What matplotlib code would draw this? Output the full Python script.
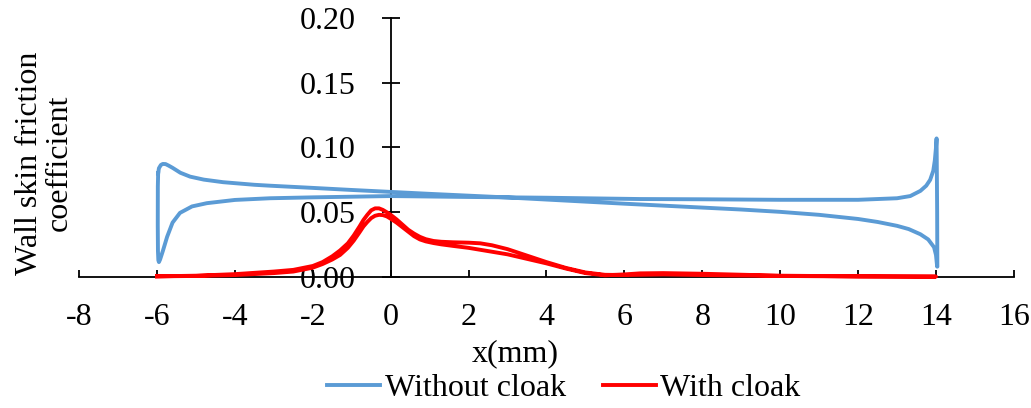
import matplotlib
matplotlib.use("Agg")
import matplotlib.pyplot as plt
from matplotlib.lines import Line2D

# ---- data (closed loops: both surfaces of the body) ----
blue_x = [-5.97, -5.95, -5.9, -5.85, -5.78, -5.7, -5.6, -5.4, -5.15, -4.8, -4.3, -3.5, -3.1, -2.0,
          -1.0, 0.0, 1.0, 2.0, 3.0, 4.0, 5.0, 6.0, 7.0, 8.0, 9.0, 10.0, 11.0, 12.0, 12.5, 13.0,
          13.3, 13.6, 13.8, 13.95, 14.0, 14.03,
          14.035, 14.03, 14.02, 14.015, 14.0, 13.97, 13.93, 13.85, 13.75, 13.6, 13.34, 13.0, 12.0,
          10.0, 8.0, 6.4, 4.0, 2.0, 0.0, -2.0, -3.1, -4.0, -4.72, -5.1, -5.41, -5.6, -5.74, -5.85,
          -5.92, -5.95, -5.965, -5.975, -5.98, -5.978, -5.97]
blue_y = [0.0800, 0.0840, 0.0865, 0.0873, 0.0872, 0.0860, 0.0843, 0.0805, 0.0775, 0.0752, 0.0732,
          0.0712, 0.0705, 0.0688, 0.0672, 0.0657, 0.0642, 0.0628, 0.0614, 0.0598, 0.0582, 0.0566,
          0.0551, 0.0536, 0.0521, 0.0503, 0.0480, 0.0448, 0.0425, 0.0395, 0.0370, 0.0330, 0.0290,
          0.0230, 0.0170, 0.0080,
          0.0080, 0.0500, 0.0900, 0.1070, 0.1000, 0.0900, 0.0820, 0.0750, 0.0705, 0.0665, 0.0625,
          0.0608, 0.0596, 0.0596, 0.0600, 0.0602, 0.0612, 0.0618, 0.0625, 0.0615, 0.0608, 0.0595,
          0.0570, 0.0545, 0.0495, 0.0420, 0.0310, 0.0200, 0.0135, 0.0115, 0.0130, 0.0200, 0.0400,
          0.0700, 0.0800]

red_x = [-6.0, -5.0, -4.0, -3.0, -2.5, -2.0, -1.75, -1.5, -1.3, -1.1, -0.95, -0.8, -0.7, -0.6,
         -0.5, -0.4, -0.3, -0.2, -0.1, 0.0, 0.15, 0.3, 0.45, 0.6, 0.75, 0.9, 1.1, 1.3, 1.6, 2.0,
         2.3, 2.6, 3.0, 3.5, 4.0, 4.5, 5.0, 5.5, 6.0, 7.0, 8.0, 10.0, 12.0, 14.0,
         14.0, 12.0, 10.0, 8.0, 7.0, 6.4, 6.0, 5.5, 5.0, 4.5, 4.0, 3.5, 3.0, 2.5, 2.0, 1.6, 1.3,
         1.1, 0.9, 0.75, 0.6, 0.45, 0.3, 0.15, 0.0, -0.1, -0.2, -0.3, -0.4, -0.5, -0.6, -0.7,
         -0.8, -0.95, -1.1, -1.3, -1.5, -1.75, -2.0, -2.5, -3.0, -4.0, -5.0, -6.0]
red_y = [0.0005, 0.0010, 0.0022, 0.0042, 0.0055, 0.0085, 0.0115, 0.0160, 0.0205, 0.0260, 0.0320,
         0.0390, 0.0440, 0.0480, 0.0515, 0.0530, 0.0530, 0.0518, 0.0500, 0.0480, 0.0445, 0.0405,
         0.0365, 0.0335, 0.0310, 0.0292, 0.0278, 0.0272, 0.0268, 0.0265, 0.0260, 0.0245, 0.0215,
         0.0165, 0.0115, 0.0070, 0.0035, 0.0017, 0.0015, 0.0020, 0.0015, 0.0008, 0.0004, 0.0003,
         0.0003, 0.0005, 0.0010, 0.0025, 0.0030, 0.0028, 0.0020, 0.0013, 0.0030, 0.0065, 0.0105,
         0.0140, 0.0175, 0.0200, 0.0225, 0.0240, 0.0252, 0.0262, 0.0275, 0.0290, 0.0315, 0.0350,
         0.0385, 0.0420, 0.0450, 0.0468, 0.0478, 0.0480, 0.0473, 0.0455, 0.0425, 0.0390, 0.0345,
         0.0280, 0.0225, 0.0170, 0.0135, 0.0100, 0.0072, 0.0042, 0.0030, 0.0015, 0.0008, 0.0005]

x_ticks = [-8, -6, -4, -2, 0, 2, 4, 6, 8, 10, 12, 14, 16]
y_ticks = [0.00, 0.05, 0.10, 0.15, 0.20]

BLUE = "#5B9BD5"
RED = "#FF0000"

plt.rcParams['font.family'] = ['Liberation Serif', 'DejaVu Serif']
FS = 23

fig = plt.figure(figsize=(10.31, 4.08), dpi=100)
ax = fig.add_axes([0.0767, 0.3211, 0.9067, 0.6348])

ax.plot(blue_x, blue_y, color=BLUE, lw=2.8, solid_joinstyle='round', zorder=3, clip_on=False)
ax.plot(red_x, red_y, color=RED, lw=2.8, solid_joinstyle='round', zorder=4, clip_on=False)

for s in ['top', 'right']:
    ax.spines[s].set_visible(False)
ax.spines['left'].set_position(('data', 0))
ax.spines['bottom'].set_position(('data', 0))
for s in ['left', 'bottom']:
    ax.spines[s].set_linewidth(1.3)
    ax.spines[s].set_color('black')

ax.set_xlim(-8, 16)
ax.set_ylim(0, 0.20)
ax.set_xticks(x_ticks)
ax.set_xticklabels([str(v) for v in x_ticks])
ax.set_yticks(y_ticks)
ax.set_yticklabels([f"{v:.2f}" for v in y_ticks])

ax.tick_params(axis='x', direction='in', length=5, width=1.3, pad=19, labelsize=FS)
ax.tick_params(axis='y', direction='inout', length=13, width=1.3, pad=19, labelsize=FS)

fig.text(515 / 1031, 1 - 354 / 408, "x(mm)", fontsize=FS, ha='center', va='center')
fig.text(0.043, 1 - 163 / 408, "Wall skin friction\ncoefficient", fontsize=FS,
         rotation=90, ha='center', va='center', multialignment='center', linespacing=1.0)

handles = [Line2D([], [], color=BLUE, lw=2.8), Line2D([], [], color=RED, lw=2.8)]
fig.legend(handles, ["Without cloak", "With cloak"], loc='center',
           bbox_to_anchor=(564 / 1031, 1 - 388 / 408), ncol=2, frameon=False,
           fontsize=FS, handlelength=1.65, handletextpad=0.15, columnspacing=1.15,
           borderpad=0, borderaxespad=0)

fig.savefig("out.png", dpi=100)
